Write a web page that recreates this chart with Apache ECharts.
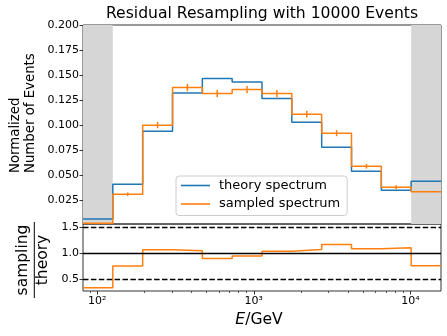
<!DOCTYPE html>
<html><head><meta charset="utf-8">
<script src="https://cdn.jsdelivr.net/npm/echarts@6/dist/echarts.min.js"></script>
<style>html,body{margin:0;padding:0;background:#fff}#c{width:447px;height:336px}</style>
</head><body><div id="c"></div>
<script>
// ---- data ----
const binEdges = [81.3, 126, 195.4, 303, 469.6, 727.8, 1128, 1749, 2712, 4204, 6516, 10100, 15660]; // GeV
const theory = [0.0062, 0.041, 0.094, 0.132, 0.1465, 0.143, 0.1265, 0.103, 0.078, 0.054, 0.035, 0.044];
const sampled = [0.002, 0.031, 0.100, 0.1375, 0.1315, 0.1355, 0.1315, 0.111, 0.092, 0.059, 0.038, 0.0335];
const sampledErr = [0, 0.0018, 0.0031, 0.0037, 0.0036, 0.0037, 0.0036, 0.0033, 0.0030, 0.0024, 0.0019, 0];
const ratio = [0.335, 0.754, 1.07, 1.05, 0.90, 0.947, 1.04, 1.077, 1.174, 1.09, 1.11, 0.76];
const topTicks = [0.025, 0.050, 0.075, 0.100, 0.125, 0.150, 0.175, 0.200];
const ratioTicks = [0.5, 1.0, 1.5];
const ratioSolidLines = [1.0];
const ratioDashedLines = [0.5, 1.5];
const xMajorTicks = [100, 1000, 10000];
const xMajorLabels = ['10²', '10³', '10⁴'];
const xMinorTicks = [90, 200, 300, 400, 500, 600, 700, 800, 900, 2000, 3000, 4000, 5000, 6000, 7000, 8000, 9000];
const seriesNames = ['theory spectrum', 'sampled spectrum'];
const titleText = 'Residual Resampling with 10000 Events';

// ---- build ----
const lg = Math.log10;
const FONT = 'DejaVu Sans';
const BLUE = '#1f77b4', ORANGE = '#ff7f0e', AX = '#333';
const nb = theory.length;
const stepData = vals => binEdges.map((e, i) => [lg(e), vals[Math.min(i, nb - 1)]]);
const xMin = lg(binEdges[0]), xMax = lg(binEdges[nb]);
const centers = binEdges.slice(0, nb).map((e, i) => (lg(e) + lg(binEdges[i + 1])) / 2);
const errData = [];
sampled.forEach((v, i) => { if (sampledErr[i] > 0) errData.push([centers[i], v, sampledErr[i]]); });

const chart = echarts.init(document.getElementById('c'), null, {renderer: 'canvas'});
const gridBase = {left: 83, width: 358, show: true, borderColor: AX, borderWidth: 1, backgroundColor: 'transparent', containLabel: false};
const lineIcon = 'path://M0,0 h29 v1.6 h-29 z';
const option = {
  animation: false,
  textStyle: {fontFamily: FONT},
  grid: [
    Object.assign({top: 25, height: 199}, gridBase),
    Object.assign({top: 224, height: 67}, gridBase)
  ],
  xAxis: [
    {gridIndex: 0, type: 'value', min: xMin, max: xMax, axisLine: {show: false}, axisTick: {show: false}, axisLabel: {show: false}, splitLine: {show: false}},
    {gridIndex: 1, type: 'value', min: xMin, max: xMax, position: 'bottom', axisLine: {show: false}, splitLine: {show: false},
      axisTick: {show: true, length: 3.5, lineStyle: {color: AX, width: 1}, customValues: xMajorTicks.map(lg)},
      axisLabel: {show: true, margin: 5, fontSize: 11, color: '#000', fontFamily: FONT, customValues: xMajorTicks.map(lg),
        formatter: v => { let k = 0, d = 1e9; xMajorTicks.forEach((t, i) => { const dd = Math.abs(lg(t) - v); if (dd < d) { d = dd; k = i; } }); return xMajorLabels[k]; }}},
    {gridIndex: 1, type: 'value', min: xMin, max: xMax, position: 'bottom', offset: 0, axisLine: {show: false}, splitLine: {show: false},
      axisTick: {show: true, length: 2, lineStyle: {color: AX, width: 0.8}, customValues: xMinorTicks.map(lg)},
      axisLabel: {show: false}}
  ],
  yAxis: [
    {gridIndex: 0, type: 'value', min: 0.0013, max: 0.2, axisLine: {show: false}, splitLine: {show: false},
      axisTick: {show: true, length: 3.5, lineStyle: {color: AX, width: 1}, customValues: topTicks},
      axisLabel: {margin: 4, fontSize: 11, color: '#000', fontFamily: FONT, customValues: topTicks, formatter: v => v.toFixed(3)}},
    {gridIndex: 1, type: 'value', min: 0.27, max: 1.57, axisLine: {show: false}, splitLine: {show: false},
      axisTick: {show: true, length: 3.5, lineStyle: {color: AX, width: 1}, customValues: ratioTicks},
      axisLabel: {margin: 4, fontSize: 11, color: '#000', fontFamily: FONT, customValues: ratioTicks, formatter: v => v.toFixed(1)}}
  ],
  legend: {
    data: seriesNames.map(n => ({name: n, icon: lineIcon})), orient: 'vertical', left: 176, top: 176,
    itemWidth: 29, itemHeight: 14, itemGap: 5.5, padding: [3, 7, 5, 5], symbolKeepAspect: true,
    backgroundColor: 'rgba(255,255,255,0.8)', borderColor: '#cccccc', borderWidth: 1, borderRadius: 3,
    textStyle: {fontSize: 13, color: '#000', fontFamily: FONT, padding: [0, 0, 0, 4]}
  },
  graphic: [
    {type: 'text', x: 262, y: 13.5, style: {text: titleText, font: '15.6px "DejaVu Sans"', fill: '#000', align: 'center', verticalAlign: 'middle'}},
    {type: 'text', x: 23, y: 173, rotation: Math.PI / 2, style: {text: 'Normalized\nNumber of Events', font: '13.3px "DejaVu Sans"', lineHeight: 15.5, fill: '#000', align: 'left', verticalAlign: 'middle'}},
    {type: 'text', x: 22.5, y: 260, rotation: Math.PI / 2, style: {text: 'sampling', font: '15.5px "DejaVu Sans"', fill: '#000', align: 'center', verticalAlign: 'middle'}},
    {type: 'text', x: 42.5, y: 260, rotation: Math.PI / 2, style: {text: 'theory', font: '15.5px "DejaVu Sans"', fill: '#000', align: 'center', verticalAlign: 'middle'}},
    {type: 'line', shape: {x1: 34.3, y1: 222, x2: 34.3, y2: 298}, style: {stroke: '#000', lineWidth: 1}},
    {type: 'text', x: 259, y: 319.5, style: {text: '{i|E}/GeV', font: '15.6px "DejaVu Sans"', fill: '#000', align: 'center', verticalAlign: 'middle',
      rich: {i: {fontStyle: 'italic', fontSize: 15.6, fontFamily: FONT}}}}
  ],
  series: [
    {name: seriesNames[0], type: 'line', xAxisIndex: 0, yAxisIndex: 0, step: 'end', data: stepData(theory), symbol: 'none',
      color: BLUE, lineStyle: {color: BLUE, width: 1.5}, z: 3,
      markArea: {silent: true, itemStyle: {color: '#d6d6d6'},
        data: [[{xAxis: lg(binEdges[0])}, {xAxis: lg(binEdges[1])}], [{xAxis: lg(binEdges[nb - 1])}, {xAxis: lg(binEdges[nb])}]]}},
    {name: seriesNames[1], type: 'line', xAxisIndex: 0, yAxisIndex: 0, step: 'end', data: stepData(sampled), symbol: 'none',
      color: ORANGE, lineStyle: {color: ORANGE, width: 1.5}, z: 4},
    {name: 'err', type: 'custom', xAxisIndex: 0, yAxisIndex: 0, data: errData, z: 4, silent: true,
      renderItem: (params, api) => {
        const x = api.value(0), v = api.value(1), e = api.value(2);
        const p1 = api.coord([x, v - e]), p2 = api.coord([x, v + e]);
        return {type: 'line', shape: {x1: p1[0], y1: p1[1], x2: p2[0], y2: p2[1]}, style: {stroke: ORANGE, lineWidth: 1.5}};
      }},
    {name: 'ratio', type: 'line', xAxisIndex: 1, yAxisIndex: 1, step: 'end', data: stepData(ratio), symbol: 'none',
      color: ORANGE, lineStyle: {color: ORANGE, width: 1.5}, z: 4,
      markLine: {silent: true, symbol: 'none', label: {show: false},
        lineStyle: {color: '#000', width: 1.3},
        data: ratioSolidLines.map(v => ({yAxis: v, lineStyle: {type: 'solid', color: '#000', width: 1.3}}))
          .concat(ratioDashedLines.map(v => ({yAxis: v, lineStyle: {type: [5.5, 2.4], color: '#000', width: 1.3}})))}}
  ]
};
chart.setOption(option);
</script>
</body></html>
